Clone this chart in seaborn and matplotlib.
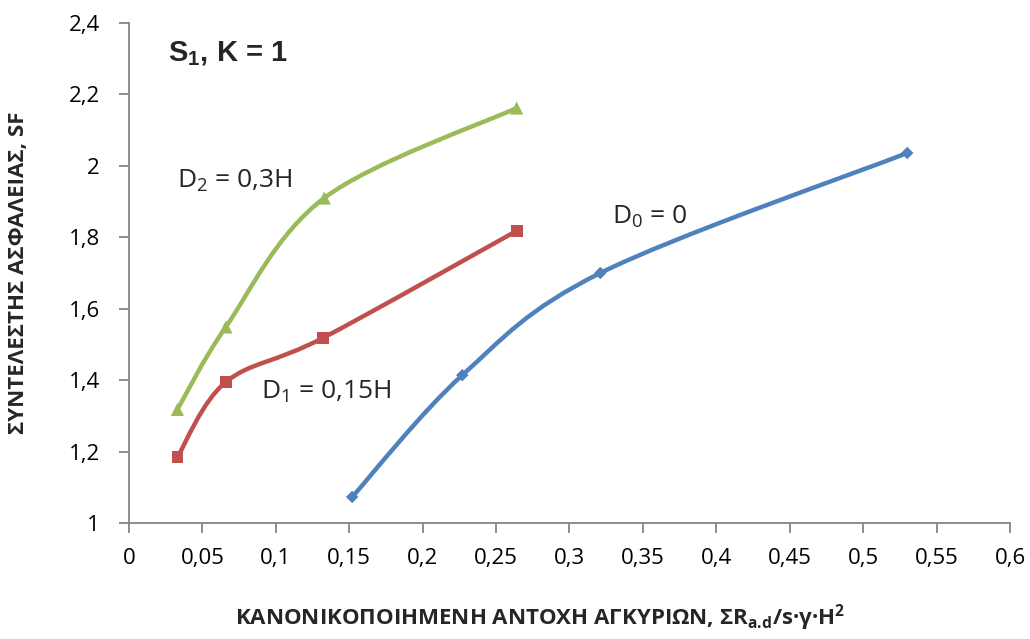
import matplotlib
matplotlib.use("Agg")
import matplotlib.pyplot as plt
from matplotlib.path import Path
from matplotlib.patches import PathPatch
from matplotlib.ticker import FuncFormatter
import numpy as np
import pandas as pd
import seaborn as sns

# Normalised anchor resistance (x) and safety factor (y) for each embedment depth
x_d0 = [0.152, 0.227, 0.321, 0.530]
sf_d0 = [1.073, 1.414, 1.700, 2.036]

x_d1 = [0.033, 0.066, 0.132, 0.264]
sf_d1 = [1.185, 1.395, 1.518, 1.818]

x_d2 = [0.033, 0.066, 0.133, 0.264]
sf_d2 = [1.318, 1.549, 1.910, 2.162]

series_names = ["D0", "D1", "D2"]
series_colors = ["#4F81BD", "#C0504D", "#9BBB59"]
series_markers = ["D", "s", "^"]
series_marker_area = [40, 72, 90]

x_ticks = [0, 0.05, 0.1, 0.15, 0.2, 0.25, 0.3, 0.35, 0.4, 0.45, 0.5, 0.55, 0.6]
y_ticks = [1, 1.2, 1.4, 1.6, 1.8, 2.0, 2.2, 2.4]

df = pd.concat([
    pd.DataFrame({"x": x_d0, "sf": sf_d0, "case": "D0"}),
    pd.DataFrame({"x": x_d1, "sf": sf_d1, "case": "D1"}),
    pd.DataFrame({"x": x_d2, "sf": sf_d2, "case": "D2"}),
], ignore_index=True)

sns.set_theme(style="white")
plt.rcParams["font.family"] = ["Open Sans", "DejaVu Sans"]

fig = plt.figure(figsize=(10.30, 6.39), dpi=100)
ax = fig.add_axes([0.1252, 0.1815, 0.8554, 0.7825])


def smooth_path(xs, ys):
    """Cubic Bezier path through the points (Catmull-Rom style smoothing)."""
    pts = np.column_stack([xs, ys]).astype(float)
    n = len(pts)
    verts = [pts[0]]
    codes = [Path.MOVETO]
    for i in range(n - 1):
        p0 = pts[i - 1] if i > 0 else pts[i]
        p1 = pts[i]
        p2 = pts[i + 1]
        p3 = pts[i + 2] if i + 2 < n else pts[i + 1]
        c1 = p1 + (p2 - p0) / 6.0
        c2 = p2 - (p3 - p1) / 6.0
        verts += [c1, c2, p2]
        codes += [Path.CURVE4] * 3
    return Path(verts, codes)


for name, color in zip(series_names, series_colors):
    sub = df[df["case"] == name]
    patch = PathPatch(smooth_path(sub["x"].values, sub["sf"].values),
                      facecolor="none", edgecolor=color, lw=3.2,
                      capstyle="round", joinstyle="round", zorder=2)
    ax.add_patch(patch)

sns.scatterplot(data=df, x="x", y="sf", hue="case", style="case", size="case",
                palette=dict(zip(series_names, series_colors)),
                markers=dict(zip(series_names, series_markers)),
                sizes=dict(zip(series_names, series_marker_area)),
                linewidth=0, legend=False, ax=ax, zorder=3)

ax.set_xlim(0, 0.6)
ax.set_ylim(1, 2.4)
ax.set_xticks(x_ticks)
ax.set_yticks(y_ticks)


def comma_fmt(v, pos):
    s = f"{v:.2f}".rstrip("0").rstrip(".")
    return s.replace(".", ",")


ax.xaxis.set_major_formatter(FuncFormatter(comma_fmt))
ax.yaxis.set_major_formatter(FuncFormatter(comma_fmt))

spine_color = "#868686"
for side in ["top", "right"]:
    ax.spines[side].set_visible(False)
for side in ["left", "bottom"]:
    ax.spines[side].set_color(spine_color)
    ax.spines[side].set_linewidth(1.3)

ax.tick_params(axis="both", which="major", direction="out", length=7, width=1.3,
               color=spine_color, labelsize=16, labelcolor="black")
ax.tick_params(axis="x", pad=11)
ax.tick_params(axis="y", pad=14)
ax.xaxis.set_ticks_position("bottom")
ax.yaxis.set_ticks_position("left")
ax.set_xlabel("")
ax.set_ylabel("")

# Axis titles
fig.text(0.524, 0.022,
         r"ΚΑΝΟΝΙΚΟΠΟΙΗΜΕΝΗ ΑΝΤΟΧΗ ΑΓΚΥΡΙΩΝ, ΣR$_\mathregular{a.\!d}$/s·γ·H$^\mathregular{2}$",
         ha="center", va="baseline", fontsize=16, fontweight="bold")
fig.text(0.018, 0.573, "ΣΥΝΤΕΛΕΣΤΗΣ ΑΣΦΑΛΕΙΑΣ, SF",
         ha="center", va="center", rotation=90, fontsize=16, fontweight="bold")

# Curve labels
ax.text(0.067, 2.315, r"S$_\mathregular{1}$, K = 1", fontsize=21, fontweight="bold",
        family=["Liberation Sans", "DejaVu Sans"], ha="center", va="center")
ax.text(0.033, 1.94, r"D$_\mathregular{2}$ = 0,3H", fontsize=19, ha="left", va="baseline")
ax.text(0.090, 1.35, r"D$_\mathregular{1}$ = 0,15H", fontsize=19, ha="left", va="baseline")
ax.text(0.329, 1.84, r"D$_\mathregular{0}$ = 0", fontsize=19, ha="left", va="baseline")

fig.savefig("out.png", dpi=100, facecolor="white")
